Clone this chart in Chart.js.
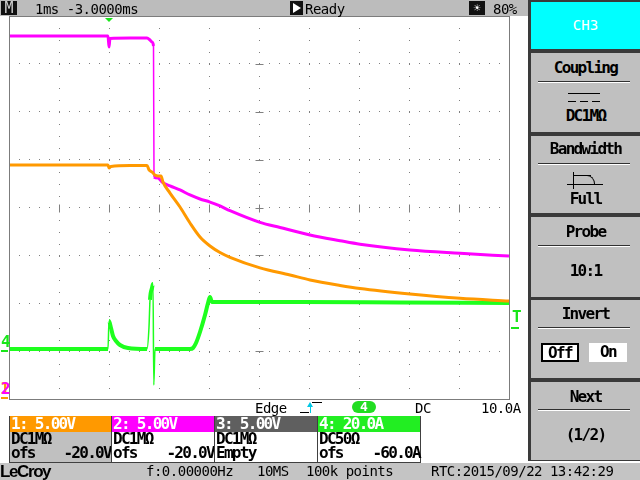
<!DOCTYPE html>
<html>
<head>
<meta charset="utf-8">
<script src="https://cdn.jsdelivr.net/npm/chart.js@4.4.1/dist/chart.umd.min.js"></script>
<style>
  html, body { margin: 0; padding: 0; background: #fff; }
  #scope { position: relative; width: 640px; height: 480px; overflow: hidden;
           font-family: "DejaVu Sans Mono", monospace; font-size: 13px; color: #000; }
  #scope canvas { position: absolute; left: 0; top: 0; }
  .abs { position: absolute; white-space: pre; line-height: 16px; }
  .tall { font-size: 16px; letter-spacing: -1.7px; font-weight: bold; }
  .mid { font-size: 14px; letter-spacing: -0.5px; }
  .panel { position: absolute; left: 531px; width: 109px; background: #c0c0c0; }
  .panel .abs { left: 0; width: 109px; text-align: center; }
  .sep { position: absolute; left: 7px; width: 92px; height: 1px; background: #303030;
         border-bottom: 1px solid #fff; }
  .box { position: absolute; top: 416px; height: 46px; border: 1px solid #404040; border-top: none;
         background: #fff; }
  .box .head { position: absolute; left: 0; right: 0; top: 0; height: 16px; color: #fff; }
  .box .abs { left: 1px; }
  .box .val { left: auto; right: 0; }
</style>
</head>
<body>
<div id="scope">
  <canvas id="c" width="640" height="480"></canvas>

  <!-- top status line -->
  <div class="abs" style="left:0;top:0;width:528px;height:16px;background:#bcbcbc"></div>
  <div class="abs" style="left:1px;top:1px;width:16px;height:14px;line-height:14px;background:#111;color:#cfcfcf;text-align:center;font-size:15px">M</div>
  <div class="abs" style="left:35px;top:1px;font-size:14px;letter-spacing:-0.5px">1ms -3.0000ms</div>
  <div class="abs" style="left:290px;top:1px;width:13px;height:14px;background:#111"></div>
  <div class="abs" style="left:293px;top:3px;width:0;height:0;border-left:8px solid #fff;border-top:5px solid transparent;border-bottom:5px solid transparent"></div>
  <div class="abs" style="left:305px;top:1px;font-size:14px;letter-spacing:-0.5px">Ready</div>
  <div class="abs" style="left:469px;top:1px;width:16px;height:14px;line-height:14px;background:#111;color:#fff;text-align:center;font-size:12px">☀</div>
  <div class="abs" style="left:493px;top:1px;font-size:14px;letter-spacing:-0.5px">80%</div>

  <!-- trigger position marker -->
  <div class="abs" style="left:105px;top:18px;width:0;height:0;border-left:4px solid transparent;border-right:4px solid transparent;border-top:4px solid #19e619"></div>

  <!-- channel ground markers -->
  <div class="abs tall" style="left:1px;top:334px;color:#19e619">4</div>
  <div class="abs" style="left:1px;top:350px;width:7px;height:2px;background:#19e619"></div>
  <div class="abs tall" style="left:0px;top:381px;color:#ff9900">1</div>
  <div class="abs tall" style="left:1px;top:381px;color:#ff00ff">2</div>
  <div class="abs" style="left:1px;top:397px;width:7px;height:2px;background:#ff9900"></div>
  <div class="abs tall" style="left:512px;top:309px;color:#19e619">T</div>
  <div class="abs" style="left:511px;top:327px;width:8px;height:2px;background:#19e619"></div>

  <!-- trigger line under the grid -->
  <div class="abs mid" style="left:255px;top:400px">Edge</div>
  <div class="abs" style="left:300px;top:412px;width:9px;height:1px;background:#000"></div>
  <div class="abs" style="left:310px;top:405px;width:1px;height:8px;background:#00c8e6"></div>
  <div class="abs" style="left:307px;top:402px;width:0;height:0;border-left:3.5px solid transparent;border-right:3.5px solid transparent;border-bottom:5px solid #00c8e6"></div>
  <div class="abs" style="left:312px;top:402px;width:10px;height:1px;background:#000"></div>
  <div class="abs tall" style="left:352px;top:401px;width:24px;height:12px;line-height:12px;border-radius:6px;background:#22dd22;color:#fff;text-align:center;font-size:13px;letter-spacing:0">4</div>
  <div class="abs mid" style="left:415px;top:400px">DC</div>
  <div class="abs mid" style="left:481px;top:400px">10.0A</div>

  <!-- channel boxes -->
  <div class="box" style="left:9px;width:101px;background:#c0c0c0">
    <div class="head" style="background:#ff9900"></div>
    <div class="abs tall" style="top:0;color:#fff">1: 5.00V</div>
    <div class="abs tall" style="top:15px">DC1MΩ</div>
    <div class="abs tall" style="top:29px">ofs</div>
    <div class="abs tall val" style="top:29px">-20.0V</div>
  </div>
  <div class="box" style="left:111px;width:102px">
    <div class="head" style="background:#ff00ff"></div>
    <div class="abs tall" style="top:0;color:#fff">2: 5.00V</div>
    <div class="abs tall" style="top:15px">DC1MΩ</div>
    <div class="abs tall" style="top:29px">ofs</div>
    <div class="abs tall val" style="top:29px">-20.0V</div>
  </div>
  <div class="box" style="left:214px;width:102px">
    <div class="head" style="background:#5f5f5f"></div>
    <div class="abs tall" style="top:0;color:#fff">3: 5.00V</div>
    <div class="abs tall" style="top:15px">DC1MΩ</div>
    <div class="abs tall" style="top:29px">Empty</div>
  </div>
  <div class="box" style="left:317px;width:102px">
    <div class="head" style="background:#22ee22"></div>
    <div class="abs tall" style="top:0;color:#fff">4: 20.0A</div>
    <div class="abs tall" style="top:15px">DC50Ω</div>
    <div class="abs tall" style="top:29px">ofs</div>
    <div class="abs tall val" style="top:29px">-60.0A</div>
  </div>

  <!-- bottom status line -->
  <div class="abs" style="left:0;top:463px;width:640px;height:17px;background:#c4c4c4"></div>
  <div class="abs" style="left:0;top:463px;line-height:17px;font-family:'Liberation Sans';font-weight:bold;font-size:17px;letter-spacing:-1.4px">LeCroy</div>
  <div class="abs mid" style="left:146px;top:463px">f:0.00000Hz</div>
  <div class="abs mid" style="left:257px;top:463px">10MS</div>
  <div class="abs mid" style="left:306px;top:463px">100k points</div>
  <div class="abs mid" style="left:431px;top:463px">RTC:2015/09/22 13:42:29</div>

  <!-- right menu -->
  <div class="abs" style="left:528px;top:0;width:112px;height:461px;background:#3a3a3a"></div>
  <div class="panel" style="top:2px;height:47px;background:#00ffff">
    <div class="abs" style="top:15px;color:#fff;font-size:14px">CH3</div>
  </div>
  <div class="panel" style="top:53px;height:79px">
    <div class="abs tall" style="top:7px">Coupling</div>
    <div class="sep" style="top:28px"></div>
    <div class="abs" style="left:37px;top:40px;width:32px;height:1px;background:#000"></div>
    <div class="abs" style="left:37px;top:48px;width:32px;height:1px;background:repeating-linear-gradient(90deg,#000 0 8px,transparent 8px 12px)"></div>
    <div class="abs tall" style="top:55px">DC1MΩ</div>
  </div>
  <div class="panel" style="top:136px;height:77px">
    <div class="abs tall" style="top:5px">Bandwidth</div>
    <div class="sep" style="top:27px"></div>
    <div class="abs" style="left:36px;top:48px;width:36px;height:1px;background:#000"></div>
    <div class="abs" style="left:42px;top:36px;width:1px;height:17px;background:#000"></div>
    <div class="abs" style="left:42px;top:39px;width:18px;height:1px;background:#000"></div>
    <div class="abs" style="left:56px;top:39px;width:8px;height:9px;border-top:1px solid #000;border-right:1px solid #000;border-top-right-radius:8px 9px;box-sizing:border-box"></div>
    <div class="abs tall" style="top:55px">Full</div>
  </div>
  <div class="panel" style="top:217px;height:80px">
    <div class="abs tall" style="top:7px">Probe</div>
    <div class="sep" style="top:28px"></div>
    <div class="abs tall" style="top:46px">10:1</div>
  </div>
  <div class="panel" style="top:300px;height:78px">
    <div class="abs tall" style="top:6px">Invert</div>
    <div class="sep" style="top:27px"></div>
    <div class="abs tall" style="left:10px;top:43px;width:38px;height:19px;line-height:18px;background:#fff;border:1px solid #000;box-sizing:border-box;outline:1px solid #000;outline-offset:-2px">Off</div>
    <div class="abs tall" style="left:58px;top:43px;width:38px;height:19px;line-height:18px;background:#fff">On</div>
  </div>
  <div class="panel" style="top:382px;height:78px">
    <div class="abs tall" style="top:7px">Next</div>
    <div class="sep" style="top:27px"></div>
    <div class="abs tall" style="top:45px">(1/2)</div>
  </div>
</div>

<script>
// 1 ms/div, trigger (t = 0) two divisions from the left edge, so the screen is -2 .. 8 ms
// CH1 and CH2: 5 V/div, offset -20 V (0 V at the bottom line)
// CH4: 20 A/div, offset -60 A (0 A three divisions below centre)

const ch1Time  = [-2, -0.02, 0, 0.04, 0.42, 0.76, 0.8, 0.86, 0.92, 0.98, 1.04, 1.08, 1.22, 1.42,
                  1.62, 1.82, 2.02, 2.22, 2.42, 3.02, 3.62, 4.02, 4.62, 5.02, 6.02, 7.02, 8];
const ch1Volts = [24.44, 24.44, 24.13, 24.28, 24.39, 24.39, 23.92, 23.71, 23.39, 23.29, 23.29, 22.66, 21.51, 20.05,
                  18.38, 16.92, 15.98, 15.3, 14.8, 13.7, 12.95, 12.43, 11.86, 11.54, 10.97, 10.52, 10.23];

const ch2Time  = [-2, -0.02, 0, 0.02, 0.42, 0.76, 0.82, 0.86, 0.89, 0.9, 0.98, 1.06, 1.22, 1.42,
                  1.62, 1.82, 2.02, 2.22, 2.42, 3.02, 3.42, 4.02, 4.62, 5.02, 6.02, 7.02, 8];
const ch2Volts = [37.91, 37.91, 36.76, 37.65, 37.7, 37.7, 37.49, 37.29, 36.87, 23.19, 23.08, 22.66, 22.25, 21.83,
                  21.31, 20.89, 20.57, 20.16, 19.67, 18.45, 17.91, 17.13, 16.53, 16.16, 15.56, 15.22, 14.93];

const ch4Time  = [-2, -0.02, 0, 0.04, 0.08, 0.14, 0.22, 0.38, 0.76, 0.8, 0.82, 0.86, 0.88, 0.896,
                  0.92, 1.62, 1.68, 1.74, 1.82, 1.92, 1.98, 2.02, 2.06, 2.42, 3.82, 5.82, 8];
const ch4Amps  = [0.89, 0.89, 12.58, 9.66, 6.32, 4.23, 2.56, 1.31, 0.89, 10.08, 21.36, 26.37, 28.04, -14.15,
                  0.89, 0.89, 1.31, 3.39, 7.99, 15.09, 20.1, 22.61, 20.52, 20.52, 20.52, 20.31, 20.1];

const toPoints = (xs, ys) => xs.map((t, i) => ({ x: t, y: ys[i] }));

// fast edges are drawn as a thin line, like the scope does
const edgeWidth = (normal) => ctx => {
  const dx = Math.abs(ctx.p1.x - ctx.p0.x);
  const dy = Math.abs(ctx.p1.y - ctx.p0.y);
  return dy > 6 * dx && dy > 20 ? 1.5 : normal;
};

// frame round the graticule and the little marks on the centre lines
const scopeFrame = {
  id: 'scopeFrame',
  beforeDatasetsDraw(chart) {
    const { ctx, scales: { x, v } } = chart;
    const cy = Math.round(v.getPixelForValue(20)) + 0.5;
    const cx = Math.round(x.getPixelForValue(3)) + 0.5;
    ctx.save();
    ctx.strokeStyle = '#808080';
    ctx.lineWidth = 1;
    ctx.beginPath();
    x.ticks.forEach(t => {
      const px = Math.round(x.getPixelForValue(t.value)) + 0.5;
      ctx.moveTo(px, cy - 4);
      ctx.lineTo(px, cy + 4);
    });
    v.ticks.forEach(t => {
      const py = Math.round(v.getPixelForValue(t.value)) + 0.5;
      ctx.moveTo(cx - 4, py);
      ctx.lineTo(cx + 4, py);
    });
    ctx.stroke();
    ctx.restore();
  },
  afterDatasetsDraw(chart) {
    const { ctx, chartArea: a } = chart;
    ctx.save();
    ctx.strokeStyle = '#7c7c7c';
    ctx.lineWidth = 1;
    ctx.strokeRect(Math.round(a.left) + 0.5, Math.round(a.top) + 0.5,
                   Math.round(a.right - a.left), Math.round(a.bottom - a.top));
    ctx.restore();
  }
};

new Chart(document.getElementById('c'), {
  type: 'line',
  data: {
    datasets: [
      { label: 'CH1', data: toPoints(ch1Time, ch1Volts), yAxisID: 'v',
        borderColor: '#ff9900', borderWidth: 3, segment: { borderWidth: edgeWidth(3) } },
      { label: 'CH2', data: toPoints(ch2Time, ch2Volts), yAxisID: 'v',
        borderColor: '#ff00ff', borderWidth: 3, segment: { borderWidth: edgeWidth(3) } },
      { label: 'CH4', data: toPoints(ch4Time, ch4Amps), yAxisID: 'a',
        borderColor: '#1eff1e', borderWidth: 4, segment: { borderWidth: edgeWidth(4) } }
    ]
  },
  options: {
    responsive: false,
    animation: false,
    layout: { padding: { left: 9, top: 16, right: 131, bottom: 81 } },
    elements: { point: { radius: 0 }, line: { cubicInterpolationMode: 'monotone' } },
    plugins: { legend: { display: false }, tooltip: { enabled: false } },
    scales: {
      x: {
        type: 'linear', min: -2, max: 8,
        ticks: { display: false, stepSize: 1 },
        grid: { color: '#7f7f7f', lineWidth: 1, drawTicks: false },
        border: { display: false, dash: [1, 11] }
      },
      v: {
        type: 'linear', position: 'left', min: 0, max: 40,
        ticks: { display: false, stepSize: 5 },
        grid: { color: '#7f7f7f', lineWidth: 1, drawTicks: false },
        border: { display: false, dash: [1, 9] }
      },
      a: {
        type: 'linear', position: 'right', min: -20, max: 140,
        display: false
      }
    }
  },
  plugins: [scopeFrame]
});
</script>
</body>
</html>
